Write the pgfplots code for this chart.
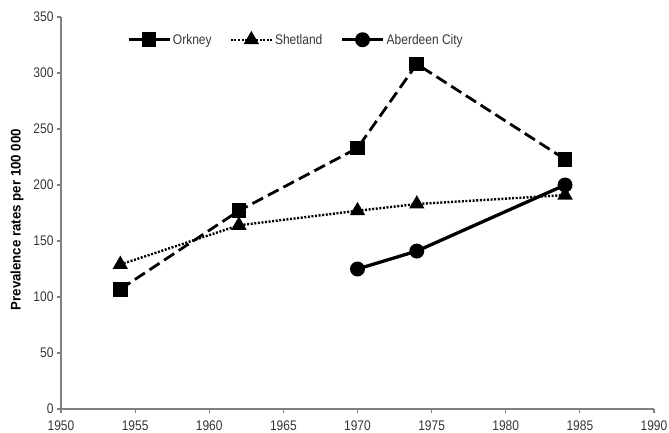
\documentclass[border=0pt]{standalone}
\usepackage{pgfplots}
\pgfplotsset{compat=1.18}
\usetikzlibrary{calc}
\usepackage{fontspec}
\setmainfont{Liberation Sans}[FakeStretch=0.86]
\newfontfamily\ylfont{Liberation Sans}[FakeStretch=0.95]
\definecolor{axgray}{RGB}{128,128,128}
\definecolor{txtgray}{RGB}{55,55,55}

\begin{document}
\begin{tikzpicture}
\begin{axis}[
    name=ax,
    scale only axis,
    width=593bp,
    height=392bp,
    xmin=1950, xmax=1990,
    ymin=0, ymax=350,
    xtick={1950,1955,...,1990},
    ytick={0,50,...,350},
    axis x line*=bottom,
    axis y line*=left,
    axis line style={axgray, line width=1.6bp, -},
    tick style={axgray, line width=1.2bp},
    tick align=outside,
    major tick length=4bp,
    /pgf/number format/assume math mode=true,
    /pgf/number format/1000 sep={},
    ticklabel style={font=\fontsize{14}{14}\selectfont, text=txtgray},
    xticklabel style={inner sep=0pt, yshift=-8bp},
    ylabel={Prevalence rates per 100 000},
    ylabel style={font=\ylfont\bfseries\fontsize{14}{14}\selectfont, text=black,
        at={(axis description cs:-0.0742,0.483)}, anchor=center},
    legend columns=3,
    legend cell align=left,
    legend style={draw=none, fill=none, inner sep=0pt,
        at={(axis description cs:0.1113,0.942)}, anchor=west,
        font=\fontsize{14}{14}\selectfont, text=txtgray,
        /tikz/every even column/.append style={column sep=16bp}},
    legend image code/.code={
        \draw[mark repeat=2, mark phase=2, #1]
            plot coordinates {(0bp,0bp) (20.5bp,0bp) (41bp,0bp)};},
]

% Orkney
\addplot[black, line width=2.8bp, dash pattern=on 12bp off 5.5bp,
    mark=square*, mark size=6bp, mark options={solid},
    legend image post style={solid}]
coordinates {
    (1954, 107)
    (1962, 177)
    (1970, 233)
    (1974, 308)
    (1984, 223)
};
\addlegendentry{Orkney}

% Shetland
\addplot[black, line width=2.4bp, dash pattern=on 2bp off 1.6bp,
    mark=triangle*, mark size=6.5bp, mark options={solid}]
coordinates {
    (1954, 129)
    (1962, 164)
    (1970, 177)
    (1974, 183)
    (1984, 191)
};
\addlegendentry{Shetland}

% Aberdeen City
\addplot[black, line width=3.3bp, solid,
    mark=*, mark size=5.8bp]
coordinates {
    (1970, 125)
    (1974, 141)
    (1984, 200)
};
\addlegendentry{Aberdeen City}
\end{axis}
\pgfresetboundingbox
\path[use as bounding box] ($(ax.south west)+(-61bp,-24bp)$) rectangle ($(ax.north east)+(15bp,17bp)$);
\end{tikzpicture}
\end{document}
